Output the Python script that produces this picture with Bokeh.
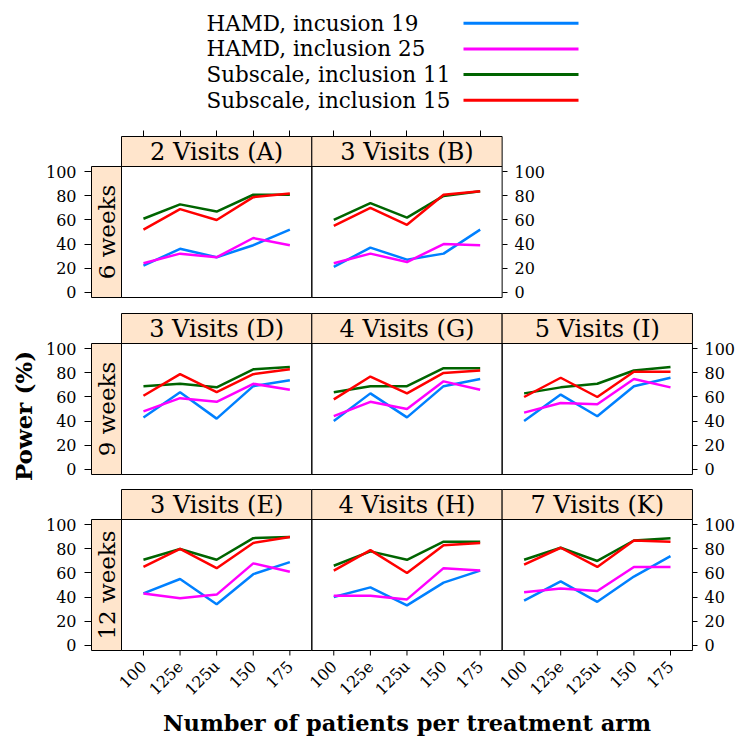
import math
from bokeh.plotting import figure
from bokeh.models import Range1d, LinearAxis, FixedTicker
from bokeh.layouts import column, row
from bokeh.embed import file_html
from bokeh.resources import INLINE
from bokeh.core.properties import value

# ---------------- data ----------------
sizes = ["100", "125e", "125u", "150", "175"]
series_labels = ["HAMD, incusion 19", "HAMD, inclusion 25",
                 "Subscale, inclusion 11", "Subscale, inclusion 15"]
series_colors = ["#0080ff", "#ff00ff", "#006400", "#ff0000"]
row_labels = ["6 weeks", "9 weeks", "12 weeks"]
row_panels = [["A", "B"], ["D", "G", "I"], ["E", "H", "K"]]
panel_titles = {"A": "2 Visits (A)", "B": "3 Visits (B)",
                "D": "3 Visits (D)", "G": "4 Visits (G)", "I": "5 Visits (I)",
                "E": "3 Visits (E)", "H": "4 Visits (H)", "K": "7 Visits (K)"}
y_ticks = [0, 20, 40, 60, 80, 100]
y_title = "Power (%)"
x_title = "Number of patients per treatment arm"

hamd19 = {"A": [22, 36, 29, 39, 52], "B": [21, 37, 27, 32, 52],
          "D": [43, 64, 42, 69, 74], "G": [40, 63, 43, 69, 75], "I": [40, 62, 44, 69, 76],
          "E": [43, 55, 34, 59, 69], "H": [40, 48, 33, 52, 62], "K": [37, 53, 36, 57, 74]}
hamd25 = {"A": [24, 32, 29, 45, 39], "B": [24, 32, 25, 40, 39],
          "D": [48, 59, 56, 71, 66], "G": [44, 56, 50, 73, 66], "I": [47, 55, 54, 75, 68],
          "E": [43, 39, 42, 68, 61], "H": [41, 41, 38, 64, 62], "K": [44, 47, 45, 65, 65]}
sub11 = {"A": [61, 73, 67, 81, 81], "B": [60, 74, 62, 80, 84],
         "D": [69, 71, 68, 83, 85], "G": [64, 69, 69, 84, 84], "I": [63, 68, 71, 82, 85],
         "E": [71, 80, 71, 89, 90], "H": [66, 78, 71, 86, 86], "K": [71, 81, 70, 87, 89]}
sub15 = {"A": [52, 69, 60, 79, 82], "B": [55, 70, 56, 81, 84],
         "D": [61, 79, 64, 79, 83], "G": [58, 77, 63, 80, 82], "I": [60, 76, 60, 81, 81],
         "E": [65, 80, 64, 85, 90], "H": [62, 79, 60, 83, 85], "K": [67, 81, 65, 87, 86]}
series_data = [hamd19, hamd25, sub11, sub15]

# ---------------- layout constants ----------------
FONT = value("DejaVu Serif")
STRIP_BG = "#ffe5cc"
TOTAL_W = 737
LEFT_B = 90
STRIP_W = 30
STRIP_H = 30
PANEL_H = 131
PAD = 1
PXU = 36.6            # pixels per x unit
LEGEND_H = 120
ROW_TOP_B = [15, 7, 6]
ROW_BOT_B = [7, 7, 0]
BOTTOM_EXTRA = 85     # room under the last row for the x tick labels and title
TICK_LEN = 5
XLAB_DROP = 13        # px from panel bottom to the x tick label anchor
XTITLE_DROP = 72      # px from panel bottom to the middle of the x title
YT_W = 40             # width of the y-title strip beside the middle row
YT_CX = 23            # centre of y title inside that strip
X_RANGE = (0.4, 5.6)
Y_RANGE = (-4.5, 104.5)
xs = list(range(1, len(sizes) + 1))
X_SPAN = X_RANGE[1] - X_RANGE[0]
PXY = PANEL_H / (Y_RANGE[1] - Y_RANGE[0])
MAX_PANELS = max(len(k) for k in row_panels)
FULL_FW = round(2 * PAD + STRIP_W + MAX_PANELS * X_SPAN * PXU)
RIGHT_B = TOTAL_W - LEFT_B - FULL_FW
FRAME_H = PANEL_H + STRIP_H + 2 * PAD


def style_axis(ax, tick_out, size="16px"):
    ax.major_tick_out = tick_out
    ax.major_tick_in = PAD
    ax.minor_tick_line_color = None
    ax.axis_line_color = None
    ax.major_tick_line_color = "black"
    ax.major_label_text_color = "black"
    ax.major_label_text_font = "DejaVu Serif"
    ax.major_label_text_font_size = size


def blank_fig(fw, fh, xr, yr, **kw):
    opts = dict(min_border=0, min_border_left=0, min_border_right=0,
                min_border_top=0, min_border_bottom=0)
    opts.update(kw)
    p = figure(frame_width=fw, frame_height=fh, x_range=Range1d(*xr), y_range=Range1d(*yr),
               x_axis_type=None, y_axis_type=None, toolbar_location=None,
               output_backend="svg", **opts)
    p.outline_line_color = None
    p.border_fill_color = "white"
    p.background_fill_color = "white"
    return p


def row_fig(r, keys, left_b):
    n = len(keys)
    last = r == len(row_panels) - 1
    extra = BOTTOM_EXTRA if last else 0
    fw = round(2 * PAD + STRIP_W + n * X_SPAN * PXU)
    fh = FRAME_H + extra
    x0 = X_RANGE[0] - (STRIP_W + PAD) / PXU
    y0 = Y_RANGE[0] - (PAD + extra) / PXY
    strip_left = X_RANGE[0] - STRIP_W / PXU
    strip_top = Y_RANGE[1] + STRIP_H / PXY
    p = blank_fig(fw, fh, (x0, x0 + fw / PXU), (y0, y0 + fh / PXY),
                  min_border_left=left_b, min_border_right=RIGHT_B,
                  min_border_top=ROW_TOP_B[r], min_border_bottom=ROW_BOT_B[r])

    offs = [j * X_SPAN for j in range(n)]
    # row strip
    p.quad(left=[strip_left], right=[X_RANGE[0]], bottom=[Y_RANGE[0]], top=[Y_RANGE[1]],
           fill_color=STRIP_BG, line_color="black", line_width=1)
    p.text(x=[(strip_left + X_RANGE[0]) / 2], y=[(Y_RANGE[0] + Y_RANGE[1]) / 2],
           text=[row_labels[r]], angle=math.pi / 2, text_font=FONT, text_font_size="23px",
           text_align="center", text_baseline="middle", text_color="black")
    # column strips
    p.quad(left=[X_RANGE[0] + o for o in offs], right=[X_RANGE[1] + o for o in offs],
           bottom=[Y_RANGE[1]] * n, top=[strip_top] * n,
           fill_color=STRIP_BG, line_color="black", line_width=1)
    p.text(x=[(X_RANGE[0] + X_RANGE[1]) / 2 + o for o in offs],
           y=[(Y_RANGE[1] + strip_top) / 2] * n, text=[panel_titles[k] for k in keys],
           text_font=FONT, text_font_size="24px", text_align="center",
           text_baseline="middle", text_color="black")
    # data lines
    for k, o in zip(keys, offs):
        for data, color in zip(series_data, series_colors):
            p.line(x=[x + o for x in xs], y=data[k], line_color=color, line_width=2.5)
    # panel borders
    p.quad(left=[X_RANGE[0] + o for o in offs], right=[X_RANGE[1] + o for o in offs],
           bottom=[Y_RANGE[0]] * n, top=[Y_RANGE[1]] * n,
           fill_color=None, line_color="black", line_width=1)

    # left / right axes
    lax = LinearAxis(ticker=FixedTicker(ticks=y_ticks), bounds=Y_RANGE)
    style_axis(lax, 6)
    lax.major_label_standoff = 8
    p.add_layout(lax, "left")
    rax = LinearAxis(ticker=FixedTicker(ticks=y_ticks), bounds=Y_RANGE)
    style_axis(rax, 4)
    rax.major_label_standoff = 7
    p.add_layout(rax, "right")

    xticks, xlabs = [], []
    for o in offs:
        for x, s in zip(xs, sizes):
            xticks.append(round(x + o, 4))
            xlabs.append(s)
    xb = (X_RANGE[0], X_RANGE[0] + n * X_SPAN)
    if r == 0:
        tax = LinearAxis(ticker=FixedTicker(ticks=xticks), bounds=xb,
                         major_label_overrides={t: "" for t in xticks})
        style_axis(tax, 5, "0px")
        tax.major_label_standoff = 0
        p.add_layout(tax, "above")
    if last:
        # bottom ticks, rotated tick labels and x title, all placed through the scales
        p.segment(x0=xticks, y0=[Y_RANGE[0]] * len(xticks), x1=xticks,
                  y1=[Y_RANGE[0] - TICK_LEN / PXY] * len(xticks),
                  line_color="black", line_width=1)
        p.text(x=xticks, y=[Y_RANGE[0] - XLAB_DROP / PXY] * len(xticks), text=xlabs,
               angle=math.pi / 4, text_font=FONT, text_font_size="16px",
               text_align="right", text_baseline="middle", text_color="black")
        p.text(x=[(xb[0] + xb[1]) / 2], y=[Y_RANGE[0] - XTITLE_DROP / PXY],
               text=[x_title], text_font=FONT, text_font_size="22.5px",
               text_font_style="bold", text_align="center",
               text_baseline="middle", text_color="black")
    return p


# legend (frame kept aligned with the panel rows)
leg = blank_fig(FULL_FW, LEGEND_H, (LEFT_B, LEFT_B + FULL_FW), (LEGEND_H, 0),
                min_border_left=LEFT_B, min_border_right=RIGHT_B)
LEG_TEXT_X = 206
LEG_LINE_X0, LEG_LINE_X1 = 463, 578
LEG_ROW0, LEG_STEP = 22.7, 25.7
for i, (lab, col) in enumerate(zip(series_labels, series_colors)):
    yy = LEG_ROW0 + i * LEG_STEP
    leg.text(x=[LEG_TEXT_X], y=[yy], text=[lab], text_font=FONT, text_font_size="21.5px",
             text_align="left", text_baseline="middle", text_color="black")
    leg.line(x=[LEG_LINE_X0, LEG_LINE_X1], y=[yy, yy], line_color=col, line_width=3)

children = [leg]
for r, keys in enumerate(row_panels):
    if r == 1:
        rf = row_fig(r, keys, LEFT_B - YT_W)
        h = ROW_TOP_B[r] + FRAME_H + ROW_BOT_B[r]
        yt = blank_fig(YT_W, h, (0, YT_W), (0, h))
        yt.text(x=[YT_CX], y=[ROW_BOT_B[r] + PAD + PANEL_H / 2],
                text=[y_title], angle=math.pi / 2, text_font=FONT, text_font_size="23px",
                text_font_style="bold", text_align="center", text_baseline="middle",
                text_color="black")
        children.append(row(yt, rf))
    else:
        children.append(row_fig(r, keys, LEFT_B))

p = column(*children)
open("out.html", "w").write(file_html(p, INLINE))
